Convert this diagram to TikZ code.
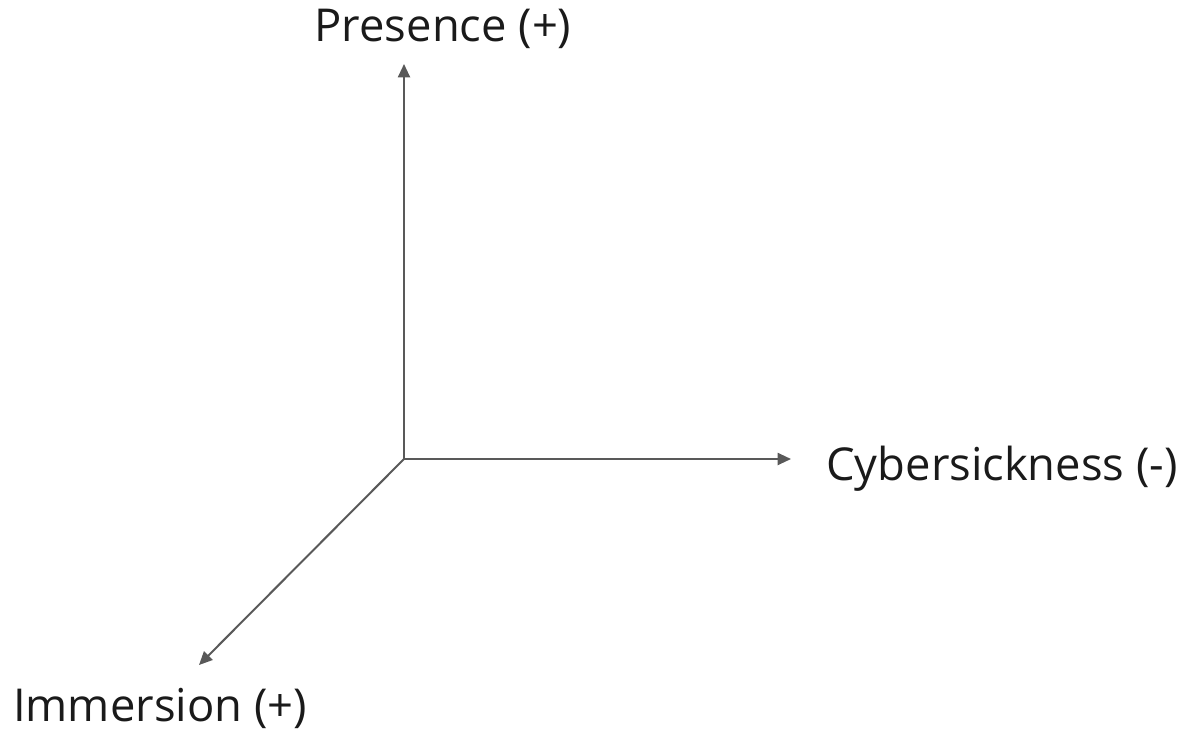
\documentclass[tikz,border=0pt]{standalone}
\usepackage{fontspec}
\setmainfont{Open Sans}
\usepackage{xcolor}
\usetikzlibrary{arrows.meta}
\definecolor{axisgray}{HTML}{595959}
\definecolor{labelblack}{HTML}{1a1a1a}

\begin{document}
\begin{tikzpicture}[
  x=0.75pt, y=-0.75pt,
  axis/.style={-{Triangle[length=10pt, width=9pt]}, line width=1.5pt, color=axisgray},
  lbl/.style={font=\fontsize{34}{40}\selectfont, color=labelblack, inner sep=0pt, anchor=base}
]
  \useasboundingbox (0,0) rectangle (1187,730);
  \coordinate (origin) at (404,459);
  \coordinate (presence end) at (404,64);
  \coordinate (cyber end) at (791,459);
  \coordinate (immersion end) at (199,665);
  \node[lbl] (presence) at (443,42) {Presence (+)};
  \node[lbl] (cyber) at (1002,480) {Cybersickness (-)};
  \node[lbl] (immersion) at (160,721) {Immersion (+)};
  \draw[axis] (origin) -- (presence end);
  \draw[axis] (origin) -- (cyber end);
  \draw[axis] (origin) -- (immersion end);
\end{tikzpicture}
\end{document}
